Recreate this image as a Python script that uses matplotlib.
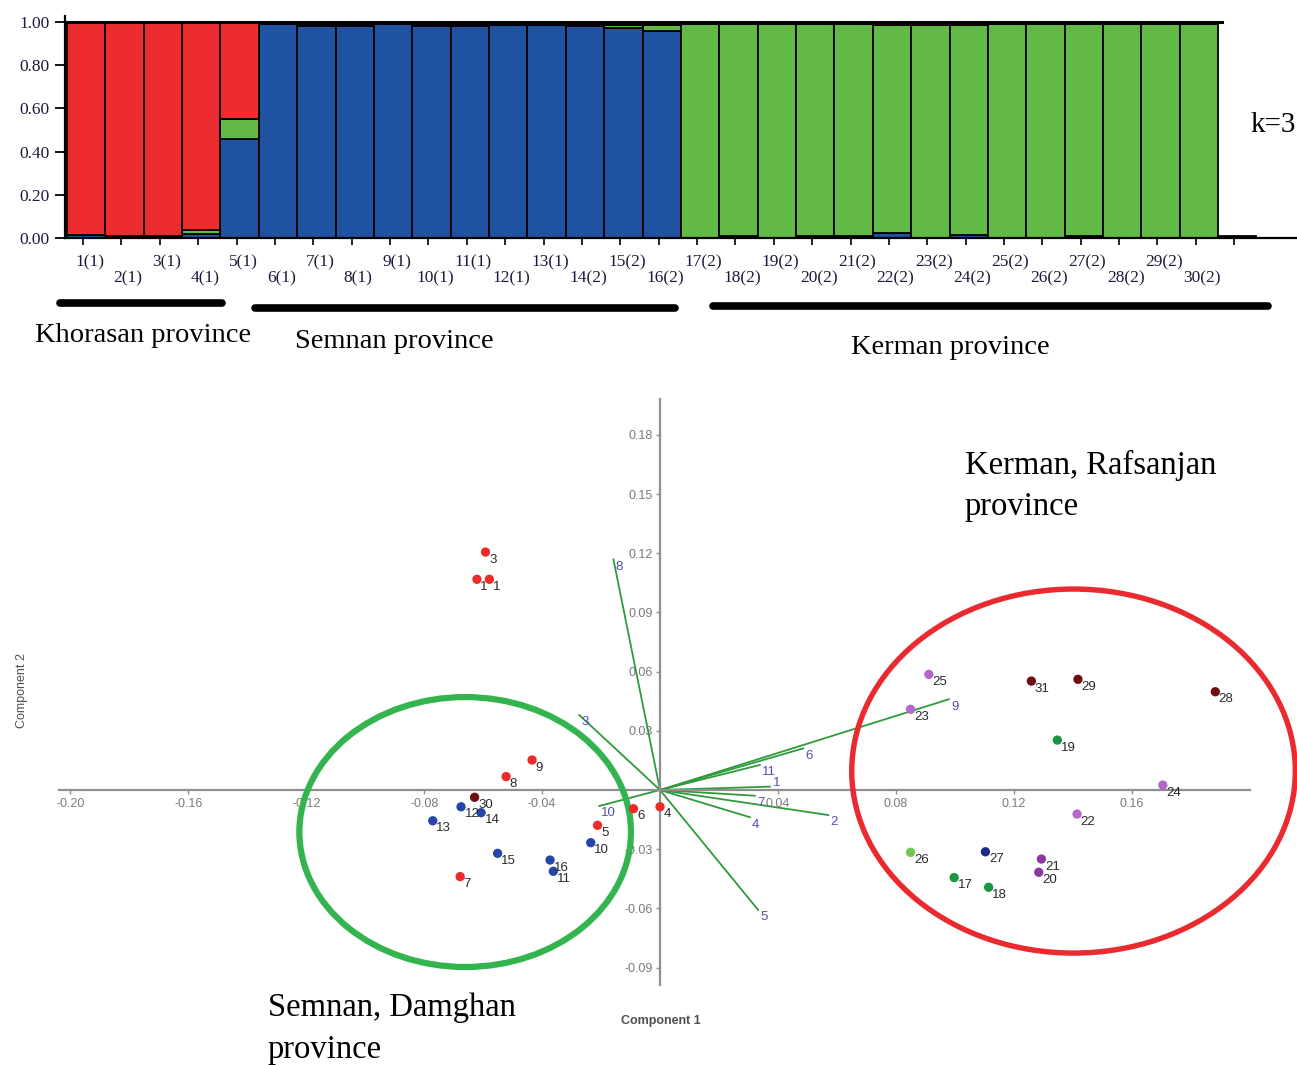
import matplotlib
matplotlib.use("Agg")
import matplotlib.pyplot as plt
import matplotlib.transforms as mtransforms
from matplotlib.patches import Ellipse
import numpy as np

# ---------------- data: STRUCTURE (K=3) ----------------
sample_labels = ["1(1)", "2(1)", "3(1)", "4(1)", "5(1)", "6(1)", "7(1)", "8(1)", "9(1)", "10(1)",
                 "11(1)", "12(1)", "13(1)", "14(2)", "15(2)", "16(2)", "17(2)", "18(2)", "19(2)", "20(2)",
                 "21(2)", "22(2)", "23(2)", "24(2)", "25(2)", "26(2)", "27(2)", "28(2)", "29(2)", "30(2)", ""]
q_blue = [0.015, 0.008, 0.008, 0.02, 0.46, 0.99, 0.98, 0.98, 0.99, 0.98,
          0.98, 0.985, 0.985, 0.98, 0.97, 0.96, 0.0, 0.008, 0.0, 0.008,
          0.008, 0.025, 0.0, 0.015, 0.0, 0.0, 0.008, 0.0, 0.0, 0.0, 0.0]
q_green = [0.0, 0.0, 0.0, 0.015, 0.09, 0.0, 0.0, 0.0, 0.0, 0.0,
           0.0, 0.0, 0.0, 0.0, 0.015, 0.025, 0.99, 0.982, 0.99, 0.982,
           0.982, 0.962, 0.987, 0.972, 0.99, 0.99, 0.982, 0.99, 0.99, 0.99, 0.0]
q_red = [0.985, 0.992, 0.992, 0.965, 0.45, 0.0, 0.0, 0.0, 0.0, 0.0,
         0.0, 0.0, 0.0, 0.0, 0.0, 0.0, 0.0, 0.0, 0.0, 0.0,
         0.0, 0.013, 0.013, 0.013, 0.0, 0.0, 0.0, 0.0, 0.0, 0.0, 0.0]
q_other = [0.0, 0.0, 0.0, 0.0, 0.0, 0.01, 0.02, 0.02, 0.01, 0.02,
           0.02, 0.015, 0.015, 0.02, 0.015, 0.015, 0.01, 0.01, 0.01, 0.01,
           0.01, 0.0, 0.0, 0.0, 0.01, 0.01, 0.01, 0.01, 0.01, 0.01, 0.01]
yticks_struct = [0.0, 0.2, 0.4, 0.6, 0.8, 1.0]

groups = ["Khorasan province", "Semnan province", "Kerman province"]
group_spans = [(-0.68, 3.54), (4.40, 15.35), (16.34, 30.80)]

# ---------------- data: PCoA ----------------
pt_labels = ["3", "1", "1", "9", "8", "30", "12", "14", "13", "15", "16", "11", "7", "5", "10", "6", "4",
             "25", "31", "29", "28", "23", "19", "24", "22", "26", "27", "21", "20", "17", "18"]
pt_x = [-0.0592, -0.0621, -0.0579, -0.0434, -0.0522, -0.0629, -0.0675, -0.0607, -0.0771, -0.0551,
        -0.0373, -0.0362, -0.0678, -0.0212, -0.0235, -0.0090, 0.0,
        0.0912, 0.1260, 0.1418, 0.1884, 0.0850, 0.1348, 0.1706, 0.1415, 0.0850, 0.1104,
        0.1294, 0.1285, 0.0998, 0.1115]
pt_y = [0.1206, 0.1068, 0.1068, 0.0152, 0.0068, -0.0037, -0.0085, -0.0115, -0.0156, -0.0321,
        -0.0355, -0.0412, -0.0439, -0.0179, -0.0267, -0.0095, -0.0085,
        0.0586, 0.0552, 0.0561, 0.0498, 0.0409, 0.0253, 0.0025, -0.0122, -0.0316, -0.0313,
        -0.0350, -0.0417, -0.0444, -0.0493]
pt_colors = ["#ee2a2a", "#ee2a2a", "#ee2a2a", "#ee2a2a", "#ee2a2a", "#6e1010", "#2446a8", "#2446a8",
             "#2446a8", "#2446a8", "#2446a8", "#2446a8", "#ee2a2a", "#ee2a2a", "#2446a8", "#ee2a2a", "#ee2a2a",
             "#b468c8", "#6e1010", "#6e1010", "#6e1010", "#b468c8", "#1a9640", "#b468c8", "#b468c8",
             "#74c852", "#1c2a8c", "#8a38a2", "#8a38a2", "#1a9640", "#1a9640"]

vec_labels = ["8", "3", "10", "6", "11", "1", "7", "2", "4", "5", "9"]
vec_x = [-0.0158, -0.0274, -0.0206, 0.0486, 0.0339, 0.0373, 0.0322, 0.0571, 0.0305, 0.0333, 0.0980]
vec_y = [0.1169, 0.0380, -0.0081, 0.0211, 0.0127, 0.0017, -0.0029, -0.0127, -0.0138, -0.0608, 0.0460]

xticks_pca = [-0.20, -0.16, -0.12, -0.08, -0.04, 0.04, 0.08, 0.12, 0.16]
yticks_pca = [-0.09, -0.06, -0.03, 0.03, 0.06, 0.09, 0.12, 0.15, 0.18]

# ---------------- figure ----------------
W, H = 1297, 1065
fig = plt.figure(figsize=(W / 100, H / 100), dpi=100)


def fx(px):
    return px / W


def fy(py):
    return 1 - py / H


SERIF = "Liberation Serif"
SANS = "Liberation Sans"
navy_txt = "#1b1b3a"

# ---- STRUCTURE bar plot ----
ppu = 38.37
xl0 = -0.5 - 2 / ppu
xl1 = xl0 + (W - 65) / ppu
ax1 = fig.add_axes([fx(65), fy(238), fx(W) - fx(65), (238 - 15.5) / H])
n = len(sample_labels)
xpos = np.arange(n)
bottom = np.zeros(n)
for vals, col in [(q_blue, "#1f53a2"), (q_green, "#62b947"), (q_red, "#ec2c2e"), (q_other, "#000000")]:
    v = np.array(vals)
    m = v > 0
    ax1.bar(xpos[m], v[m], width=1.0, bottom=bottom[m], color=col, edgecolor="black", linewidth=1.3)
    bottom += v
ax1.set_xlim(xl0, xl1)
ax1.set_ylim(0, 1.03)
for s in ["top", "right"]:
    ax1.spines[s].set_visible(False)
for s in ["left", "bottom"]:
    ax1.spines[s].set_linewidth(1.6)
last_edge = (n - 2) + 0.6
ax1.axhline(1.0, xmin=0, xmax=(last_edge - xl0) / (xl1 - xl0), color="black", lw=2.2)
ax1.set_yticks(yticks_struct)
ax1.set_yticklabels(["%.2f" % v for v in yticks_struct], fontfamily=SERIF, fontsize=12.5,
                    color=navy_txt)
ax1.tick_params(axis="y", direction="out", length=7, width=1.3, pad=4)
ax1.set_xticks(xpos - 0.08)
ax1.set_xticklabels([])
ax1.tick_params(axis="x", direction="out", length=5, width=1.2)
trans1 = mtransforms.blended_transform_factory(ax1.transData, ax1.transAxes)
for i, lab in enumerate(sample_labels):
    yy = -0.108 if i % 2 == 0 else -0.180
    ax1.text(i + 0.09, yy, lab, transform=trans1, ha="center", va="center",
             fontfamily=SERIF, fontsize=12.5, color=navy_txt)
for (a, b), yy in zip(group_spans, [-0.292, -0.315, -0.306]):
    ax1.plot([a, b], [yy, yy], transform=trans1, color="black", lw=5.5,
             solid_capstyle="round", clip_on=False)

for g, (px, py) in zip(groups, [(143, 335), (394, 342), (950, 348)]):
    fig.text(fx(px), fy(py), g, ha="center", va="center", fontfamily=SERIF, fontsize=20.5)
fig.text(fx(1250), fy(125), "k=3", ha="left", va="center", fontfamily=SERIF, fontsize=21)

# ---- PCoA biplot ----
sx, sy = 2947.5, 1973.0
ox, oy = 660, 790
top_px = 385
ax2 = fig.add_axes([0, 0, 1, (H - top_px) / H])
ax2.patch.set_visible(False)
ax2.set_xlim((0 - ox) / sx, (W - ox) / sx)
ax2.set_ylim((oy - H) / sy, (oy - top_px) / sy)
ax2.spines["top"].set_visible(False)
ax2.spines["right"].set_visible(False)
ax2.spines["left"].set_position(("data", 0))
ax2.spines["bottom"].set_position(("data", 0))
ax2.spines["bottom"].set_bounds(-0.204, 0.2)
ax2.spines["left"].set_bounds(-0.099, 0.198)
for s in ["left", "bottom"]:
    ax2.spines[s].set_color("#8e8e8e")
    ax2.spines[s].set_linewidth(1.6)
ax2.set_xticks(xticks_pca)
ax2.set_xticklabels(["%.2f" % v for v in xticks_pca])
ax2.set_yticks(yticks_pca)
ax2.set_yticklabels(["%.2f" % v for v in yticks_pca])
ax2.tick_params(direction="out", length=3, width=1, color="#8e8e8e", labelcolor="#7a7a7a",
                labelsize=9, pad=2)
ax2.tick_params(axis="x", pad=3)
for lab in ax2.get_xticklabels() + ax2.get_yticklabels():
    lab.set_fontfamily(SANS)

vec_col = "#2f9a3c"
vec_label_style = {"1": dict(xytext=(2, 2.5), va="center")}
for vx, vy, vl in zip(vec_x, vec_y, vec_labels):
    ax2.plot([0, vx], [0, vy], color=vec_col, lw=1.3, zorder=2)
    st = vec_label_style.get(vl, dict(xytext=(1.5, -1), va="top"))
    ax2.annotate(vl, (vx, vy), textcoords="offset points", ha="left",
                 fontsize=9.5, color="#5050b4", fontfamily=SANS, zorder=3, **st)

ax2.scatter(pt_x, pt_y, s=45, c=pt_colors, edgecolors="none", zorder=4)
for px_, py_, lab in zip(pt_x, pt_y, pt_labels):
    ax2.annotate(lab, (px_, py_), xytext=(2.5, -1.2), textcoords="offset points", ha="left", va="top",
                 fontsize=9.5, color="#2a2a2a", fontfamily=SANS, zorder=5)

ax2.add_patch(Ellipse((-0.0661, -0.0213), 0.1125, 0.1368, fill=False, edgecolor="#34b44f",
                      lw=4.5, zorder=3, clip_on=False))
ax2.add_patch(Ellipse((0.1403, 0.0096), 0.1505, 0.1845, fill=False, edgecolor="#ea2a2e",
                      lw=3.9, zorder=3, clip_on=False))

fig.text(fx(661), fy(1021), "Component 1", ha="center", va="center", fontsize=9, fontweight="bold",
         color="#505050", fontfamily=SANS)
fig.text(fx(22), fy(690), "Component 2", ha="center", va="center", rotation=90, fontsize=9,
         color="#505050", fontfamily=SANS)

fig.text(fx(965), fy(465), "Kerman, Rafsanjan", ha="left", va="center", fontfamily=SERIF, fontsize=23.5)
fig.text(fx(965), fy(507), "province", ha="left", va="center", fontfamily=SERIF, fontsize=23.5)
fig.text(fx(268), fy(1008), "Semnan, Damghan", ha="left", va="center", fontfamily=SERIF, fontsize=23.5)
fig.text(fx(268), fy(1050), "province", ha="left", va="center", fontfamily=SERIF, fontsize=23.5)

fig.savefig("out.png", dpi=100)
